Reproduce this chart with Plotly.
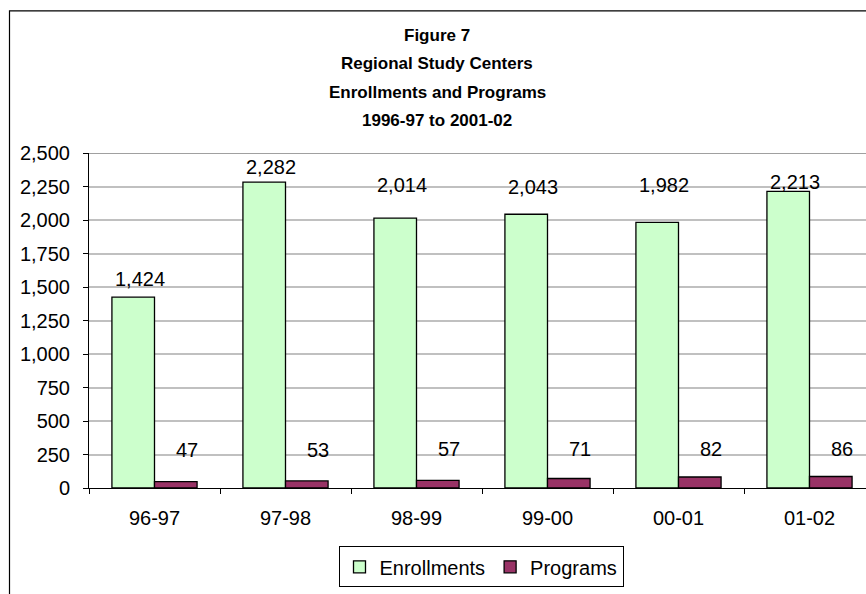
import plotly.graph_objects as go

categories = ["96-97", "97-98", "98-99", "99-00", "00-01", "01-02"]
enrollments = [1424, 2282, 2014, 2043, 1982, 2213]
programs = [47, 53, 57, 71, 82, 86]
y_ticks = [0, 250, 500, 750, 1000, 1250, 1500, 1750, 2000, 2250, 2500]
title_lines = ["Figure 7", "Regional Study Centers", "Enrollments and Programs", "1996-97 to 2001-02"]

# label placement offsets (pixels above bar top), styling only
enr_lab_dy = [18, 15, 33, 27, 37, 9]
prog_lab_dy = [32, 31, 31, 29, 28, 27]

W, H = 866, 594
ML, MT, MB = 89, 152.5, 105.5
plot_w = W - ML
cat_px = 131.0
x_max = -0.5 + plot_w / cat_px
bargap = 0.35
bar_px = (1 - bargap) / 2 * cat_px

FONT = "Liberation Sans, Arial, sans-serif"
fs = 20

fig = go.Figure()
fig.add_trace(go.Bar(
    name="Enrollments", x=categories, y=enrollments,
    marker=dict(color="#CCFFCC", line=dict(color="black", width=1.3)),
))
fig.add_trace(go.Bar(
    name="Programs", x=categories, y=programs,
    marker=dict(color="#993366", line=dict(color="black", width=1.3)),
))

anns = []
for i, c in enumerate(categories):
    anns.append(dict(x=c, y=enrollments[i], xref="x", yref="y", text=f"{enrollments[i]:,}",
                     showarrow=False, xshift=-bar_px / 2 + 7, yshift=enr_lab_dy[i],
                     yanchor="middle", font=dict(family=FONT, size=fs, color="black")))
    anns.append(dict(x=c, y=programs[i], xref="x", yref="y", text=f"{programs[i]:,}",
                     showarrow=False, xshift=bar_px / 2 + 11, yshift=prog_lab_dy[i],
                     yanchor="middle", font=dict(family=FONT, size=fs, color="black")))

plot_h = H - MT - MB
title_y_px = [35, 63, 92, 120]
for t, ypx in zip(title_lines, title_y_px):
    anns.append(dict(x=(437 - ML) / plot_w, y=(H - MB - ypx) / plot_h, xref="paper", yref="paper",
                     text=f"<b>{t}</b>", showarrow=False, xanchor="center", yanchor="middle",
                     font=dict(family=FONT, size=17, color="black")))

shapes = [
    dict(type="rect", xref="paper", yref="paper",
         x0=(9.5 - ML) / plot_w, x1=(W + 20 - ML) / plot_w,
         y0=(H - MB - (H + 20)) / plot_h, y1=(H - MB - 10) / plot_h,
         line=dict(color="black", width=1.2), fillcolor="rgba(0,0,0,0)", layer="below"),
    dict(type="line", xref="paper", yref="y", x0=0, x1=1.05, y0=2500, y1=2500,
         line=dict(color="#808080", width=1.5)),
]

fig.update_layout(
    width=W, height=H,
    margin=dict(l=ML, r=0, t=MT, b=MB, pad=0),
    paper_bgcolor="white", plot_bgcolor="white",
    barmode="group", bargap=bargap, bargroupgap=0,
    font=dict(family=FONT, size=fs, color="black"),
    xaxis=dict(type="category", range=[-0.5, x_max], showline=True, linecolor="black", linewidth=1,
               ticks="outside", tickson="boundaries", ticklen=5, tickcolor="black",
               ticklabelstandoff=12, showgrid=False, fixedrange=True, automargin=False),
    yaxis=dict(range=[0, 2500], tickvals=y_ticks, tickformat=",", showline=True,
               linecolor="black", linewidth=1, ticks="outside", ticklen=5, tickcolor="black",
               showgrid=True, gridcolor="#C0C0C0", gridwidth=1.5, zeroline=False,
               ticklabelstandoff=9, automargin=False),
    legend=dict(orientation="h", x=(481 - ML) / plot_w, xanchor="center",
                y=(H - MB - 547) / plot_h, yanchor="top",
                bordercolor="black", borderwidth=1, bgcolor="white",
                font=dict(family=FONT, size=fs), itemwidth=30, tracegroupgap=0),
    annotations=anns,
    shapes=shapes,
    showlegend=True,
)

fig.write_html("out.html", config={"displayModeBar": False},
               post_script="document.body.style.margin='0px';document.body.style.overflow='hidden';")
